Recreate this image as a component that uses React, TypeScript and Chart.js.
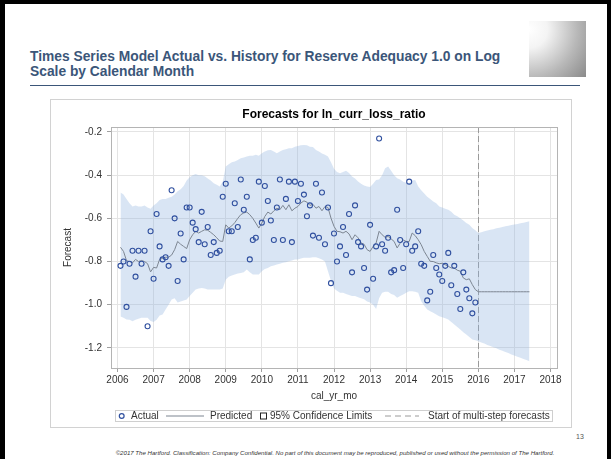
import React, { useEffect, useRef } from "react";
import { Chart, registerables } from "chart.js";

Chart.register(...registerables);

// ---------- data (monthly, month index counted from Jan 2006) ----------
const ACTUAL_FIRST_MONTH = 1; // Feb 2006
const PRED_FIRST_MONTH = 1; // Feb 2006
const FORECAST_START = 2016;

const actual = [
  -0.82, -0.8, -1.01, -0.81, -0.75, -0.87, -0.75, -0.81, -0.75, -1.1, -0.66, -0.88,
  -0.58, -0.73, -0.79, -0.78, -0.82, -0.47, -0.6, -0.89, -0.67, -0.79, -0.55, -0.55,
  -0.62, -0.65, -0.71, -0.57, -0.72, -0.64, -0.77, -0.71, -0.76, -0.75, -0.5, -0.44,
  -0.66, -0.66, -0.53, -0.64, -0.42, -0.56, -0.5, -0.79, -0.7, -0.69, -0.43, -0.62,
  -0.45, -0.52, -0.61, -0.7, -0.55, -0.42, -0.7, -0.51, -0.43, -0.71, -0.43, -0.52,
  -0.44, -0.49, -0.59, -0.54, -0.68, -0.44, -0.69, -0.48, -0.72, -0.55, -0.9, -0.67,
  -0.8, -0.73, -0.64, -0.77, -0.58, -0.85, -0.54, -0.71, -0.73, -0.83, -0.93, -0.63,
  -0.88, -0.73, -0.23, -0.72, -0.75, -0.69, -0.85, -0.84, -0.56, -0.7, -0.83, -0.72,
  -0.43, -0.75, -0.73, -0.66, -0.81, -0.82, -0.98, -0.94, -0.77, -0.83, -0.86, -0.89,
  -0.82, -0.76, -0.91, -0.82, -0.95, -1.02, -0.85, -0.93, -0.97, -1.04, -0.99,
];

const predicted = [
  -0.734, -0.753, -0.796, -0.8, -0.806, -0.79, -0.8, -0.795, -0.8, -0.81, -0.848, -0.827,
  -0.83, -0.79, -0.785, -0.78, -0.78, -0.77, -0.745, -0.707, -0.72, -0.73, -0.74, -0.699,
  -0.676, -0.66, -0.668, -0.66, -0.653, -0.655, -0.665, -0.676, -0.69, -0.705, -0.707, -0.63,
  -0.645, -0.635, -0.62, -0.6, -0.583, -0.575, -0.571, -0.583, -0.6, -0.622, -0.645, -0.622,
  -0.591, -0.571, -0.58, -0.565, -0.553, -0.56, -0.54, -0.56, -0.537, -0.565, -0.553, -0.545,
  -0.529, -0.519, -0.525, -0.54, -0.535, -0.553, -0.545, -0.565, -0.545, -0.55, -0.599, -0.637,
  -0.66, -0.662, -0.668, -0.66, -0.672, -0.699, -0.676, -0.69, -0.714, -0.72, -0.745, -0.753,
  -0.73, -0.714, -0.66, -0.676, -0.688, -0.684, -0.695, -0.707, -0.737, -0.715, -0.7, -0.707,
  -0.707, -0.668, -0.68, -0.699, -0.722, -0.753, -0.776, -0.799, -0.8, -0.806, -0.81, -0.808,
  -0.815, -0.822, -0.83, -0.83, -0.84, -0.845, -0.876, -0.884, -0.88, -0.907, -0.93, -0.94,
  -0.94, -0.94, -0.94, -0.94, -0.94, -0.94, -0.94, -0.94, -0.94, -0.94, -0.94, -0.94,
  -0.94, -0.94, -0.94, -0.94, -0.94,
];

const upperCL = [
  -0.48, -0.49, -0.51, -0.53, -0.545, -0.54, -0.545, -0.545, -0.54, -0.55, -0.555, -0.54,
  -0.53, -0.515, -0.51, -0.51, -0.505, -0.5, -0.49, -0.475, -0.465, -0.45, -0.425, -0.41,
  -0.4, -0.395, -0.4, -0.4, -0.405, -0.415, -0.425, -0.437, -0.445, -0.453, -0.43, -0.36,
  -0.35, -0.34, -0.337, -0.33, -0.322, -0.318, -0.314, -0.31, -0.31, -0.306, -0.31, -0.298,
  -0.29, -0.285, -0.283, -0.29, -0.298, -0.29, -0.283, -0.28, -0.275, -0.275, -0.268, -0.265,
  -0.262, -0.26, -0.262, -0.268, -0.27, -0.283, -0.29, -0.3, -0.305, -0.314, -0.34, -0.37,
  -0.385, -0.391, -0.385, -0.38, -0.39, -0.406, -0.415, -0.429, -0.44, -0.448, -0.453, -0.455,
  -0.44, -0.422, -0.42, -0.4, -0.368, -0.36, -0.38, -0.4, -0.414, -0.42, -0.43, -0.435,
  -0.437, -0.425, -0.422, -0.453, -0.47, -0.485, -0.5, -0.51, -0.522, -0.53, -0.545, -0.55,
  -0.555, -0.56, -0.57, -0.583, -0.59, -0.6, -0.61, -0.622, -0.63, -0.645, -0.655, -0.668,
  -0.664, -0.66, -0.656, -0.653, -0.65, -0.646, -0.643, -0.64, -0.637, -0.634, -0.631, -0.628,
  -0.626, -0.623, -0.62, -0.617, -0.614,
];

const lowerCL = [
  -1.055, -1.06, -1.068, -1.07, -1.076, -1.07, -1.065, -1.06, -1.06, -1.06, -1.075, -1.08,
  -1.07, -1.05, -1.045, -1.022, -1.0, -0.976, -0.97, -0.99, -0.985, -0.98, -0.976, -0.96,
  -0.945, -0.93, -0.925, -0.922, -0.925, -0.93, -0.93, -0.93, -0.93, -0.93, -0.925, -0.884,
  -0.87, -0.865, -0.86, -0.855, -0.853, -0.85, -0.837, -0.85, -0.86, -0.86, -0.86, -0.845,
  -0.835, -0.83, -0.822, -0.818, -0.814, -0.81, -0.806, -0.803, -0.799, -0.795, -0.79, -0.79,
  -0.786, -0.783, -0.783, -0.783, -0.78, -0.78, -0.785, -0.79, -0.8, -0.845, -0.89, -0.925,
  -0.935, -0.945, -0.945, -0.95, -0.955, -0.96, -0.96, -0.965, -0.97, -0.975, -0.985, -0.99,
  -1.0, -1.02, -0.97, -0.945, -0.94, -0.94, -0.95, -0.955, -0.968, -0.96, -0.953, -0.945,
  -0.938, -0.938, -0.94, -0.945, -0.984, -1.005, -1.022, -1.03, -1.037, -1.045, -1.053, -1.058,
  -1.063, -1.068, -1.08, -1.091, -1.103, -1.115, -1.127, -1.138, -1.15, -1.161, -1.165, -1.169,
  -1.175, -1.18, -1.186, -1.191, -1.197, -1.202, -1.208, -1.213, -1.219, -1.224, -1.23, -1.235,
  -1.241, -1.246, -1.251, -1.256, -1.262,
];

const yearTicks = [2006, 2007, 2008, 2009, 2010, 2011, 2012, 2013, 2014, 2015, 2016, 2017, 2018];
const valueTicks = [-1.2, -1.0, -0.8, -0.6, -0.4, -0.2];

const X_MIN = 2005.82;
const X_MAX = 2018.18;
const Y_MIN = -1.293;
const Y_MAX = -0.177;

const monthToYear = (m: number) => 2006 + m / 12;
const toPoints = (arr: number[], first: number) =>
  arr.map((v, i) => ({ x: monthToYear(first + i), y: v }));

// ---------- styling ----------
const FONT = '"Liberation Sans", Arial, Helvetica, sans-serif';
const TEXT = "#333333";
const MARKER = "#30509f";
const PRED_LINE = "#7c8591";
const BAND = "rgba(140,175,222,0.33)";
const GRID = "#e4e4e4";
const FRAME = "#b4b4b4";

const framePlugin = {
  id: "frameAndForecast",
  beforeDatasetsDraw(chart: any) {
    const { ctx, chartArea, scales } = chart;
    const x = Math.round(scales.x.getPixelForValue(FORECAST_START)) + 0.5;
    ctx.save();
    ctx.strokeStyle = "#9a9a9a";
    ctx.lineWidth = 1;
    ctx.setLineDash([6, 3]);
    ctx.beginPath();
    ctx.moveTo(x, chartArea.top);
    ctx.lineTo(x, chartArea.bottom);
    ctx.stroke();
    ctx.restore();
  },
  afterDraw(chart: any) {
    const { ctx, chartArea } = chart;
    ctx.save();
    ctx.strokeStyle = FRAME;
    ctx.lineWidth = 1;
    ctx.strokeRect(
      Math.round(chartArea.left) + 0.5,
      Math.round(chartArea.top) + 0.5,
      Math.round(chartArea.right - chartArea.left),
      Math.round(chartArea.bottom - chartArea.top)
    );

    // SAS-style legend row
    const top = 310;
    const h = 11;
    const cy = top + h / 2 + 0.5;
    ctx.strokeStyle = "#cfcfcf";
    ctx.strokeRect(64.5, top + 0.5, 437, h);
    ctx.font = `10px ${FONT}`;
    ctx.fillStyle = TEXT;
    ctx.textBaseline = "middle";
    ctx.textAlign = "left";

    ctx.strokeStyle = MARKER;
    ctx.lineWidth = 1.2;
    ctx.beginPath();
    ctx.arc(70.7, cy, 2.4, 0, Math.PI * 2);
    ctx.stroke();
    ctx.fillText("Actual", 80, cy);

    ctx.strokeStyle = PRED_LINE;
    ctx.lineWidth = 1;
    ctx.beginPath();
    ctx.moveTo(115, cy);
    ctx.lineTo(153, cy);
    ctx.stroke();
    ctx.fillText("Predicted", 159, cy);

    ctx.strokeStyle = "#222";
    ctx.strokeRect(209.5, cy - 3, 6, 6);
    ctx.fillText("95% Confidence Limits", 219, cy);

    ctx.strokeStyle = "#9a9a9a";
    ctx.setLineDash([6, 4]);
    ctx.beginPath();
    ctx.moveTo(334, cy);
    ctx.lineTo(368, cy);
    ctx.stroke();
    ctx.setLineDash([]);
    ctx.fillText("Start of multi-step forecasts", 377, cy);
    ctx.restore();
  },
};

function ForecastChart() {
  const ref = useRef<HTMLCanvasElement | null>(null);
  useEffect(() => {
    if (!ref.current) return;
    const tickFont = { family: FONT, size: 10 };
    const chart = new Chart(ref.current, {
      type: "line",
      data: {
        datasets: [
          {
            label: "Actual",
            data: toPoints(actual, ACTUAL_FIRST_MONTH),
            showLine: false,
            pointRadius: 2.5,
            pointBorderWidth: 1.1,
            pointBorderColor: MARKER,
            pointBackgroundColor: "rgba(0,0,0,0)",
            borderColor: MARKER,
          },
          {
            label: "Predicted",
            data: toPoints(predicted, PRED_FIRST_MONTH),
            borderColor: PRED_LINE,
            borderWidth: 1,
            pointRadius: 0,
            tension: 0,
          },
          {
            label: "95% Confidence Limits",
            data: toPoints(upperCL, PRED_FIRST_MONTH),
            borderWidth: 0,
            borderColor: "rgba(0,0,0,0)",
            backgroundColor: BAND,
            pointRadius: 0,
            fill: "+1",
          },
          {
            label: "lower",
            data: toPoints(lowerCL, PRED_FIRST_MONTH),
            borderWidth: 0,
            borderColor: "rgba(0,0,0,0)",
            pointRadius: 0,
            fill: false,
          },
        ],
      },
      options: {
        animation: false,
        responsive: false,
        maintainAspectRatio: false,
        devicePixelRatio: 1,
        layout: { padding: { left: 0, right: 14, top: 0, bottom: 24 } },
        plugins: {
          legend: { display: false },
          tooltip: { enabled: false },
          title: {
            display: true,
            text: "Forecasts for ln_curr_loss_ratio",
            fullSize: false,
            color: "#000",
            font: { family: FONT, size: 12, weight: "bold" },
            padding: { top: 7.5, bottom: 5.1 },
          },
        },
        scales: {
          x: {
            type: "linear",
            min: X_MIN,
            max: X_MAX,
            afterBuildTicks: (s: any) => {
              s.ticks = yearTicks.map((v) => ({ value: v }));
            },
            afterFit: (s: any) => {
              s.height = 35;
            },
            grid: { color: GRID, tickLength: 4, tickColor: "#a0a0a0" },
            border: { color: FRAME },
            ticks: {
              padding: 2,
              font: tickFont,
              color: TEXT,
              maxRotation: 0,
              autoSkip: false,
              callback: (v: any) => String(v),
            },
            title: {
              display: true,
              text: "cal_yr_mo",
              font: tickFont,
              color: TEXT,
              padding: { top: 0, bottom: 1 },
            },
          },
          y: {
            type: "linear",
            min: Y_MIN,
            max: Y_MAX,
            afterBuildTicks: (s: any) => {
              s.ticks = valueTicks.map((v) => ({ value: v }));
            },
            afterFit: (s: any) => {
              s.width = 60;
            },
            grid: { color: GRID, tickLength: 4, tickColor: "#a0a0a0" },
            border: { color: FRAME },
            ticks: {
              padding: 5,
              font: tickFont,
              color: TEXT,
              callback: (v: any) => Number(v).toFixed(1),
            },
            title: {
              display: true,
              text: "Forecast",
              font: tickFont,
              color: TEXT,
              padding: { top: 11, bottom: 0 },
            },
          },
        },
      },
      plugins: [framePlugin],
    } as any);
    return () => chart.destroy();
  }, []);
  return (
    <canvas
      ref={ref}
      width={520}
      height={327}
      style={{ position: "absolute", left: 0, top: 0, width: 520, height: 327 }}
    />
  );
}

export default function App() {
  return (
    <div
      style={{
        position: "fixed",
        left: 0,
        top: 0,
        width: 611,
        height: 459,
        background: "#fff",
        overflow: "hidden",
        fontFamily: FONT,
      }}
    >
      <div
        style={{
          position: "absolute",
          left: 0,
          top: 0,
          width: 611,
          height: 459,
          boxSizing: "border-box",
          borderLeft: "5px solid #000",
          borderTop: "4px solid #000",
          borderRight: "4px solid #000",
        }}
      />
      <div
        style={{
          position: "absolute",
          left: 30,
          top: 49,
          width: 495,
          fontSize: 13.8,
          lineHeight: "15px",
          fontWeight: "bold",
          color: "#3b5679",
        }}
      >
        Times Series Model Actual vs. History for Reserve Adequacy 1.0 on Log
        <br />
        Scale by Calendar Month
      </div>
      <div
        style={{
          position: "absolute",
          left: 529,
          top: 21,
          width: 57,
          height: 56,
          background:
            "radial-gradient(circle at 0% 15%, #ffffff 0%, #f4f4f4 25%, #b8b8b8 65%, #8a8a8a 100%)",
        }}
      />
      <div
        style={{
          position: "absolute",
          left: 30,
          top: 85,
          width: 550,
          height: 0,
          borderTop: "1.5px solid #3b5679",
        }}
      />
      <div
        style={{
          position: "absolute",
          left: 50,
          top: 99,
          width: 522,
          height: 329,
          boxSizing: "border-box",
          border: "1px solid #d2d2d2",
        }}
      >
        <ForecastChart />
      </div>
      <div
        style={{
          position: "absolute",
          left: 576,
          top: 433,
          fontSize: 7,
          color: "#555",
        }}
      >
        13
      </div>
      <div
        style={{
          position: "absolute",
          left: 0,
          width: 670,
          top: 449,
          textAlign: "center",
          fontSize: 6.1,
          fontStyle: "italic",
          color: "#333",
          whiteSpace: "nowrap",
        }}
      >
        ©2017 The Hartford. Classification: Company Confidential. No part of this document may be reproduced, published or used without the permission of The Hartford.
      </div>
    </div>
  );
}
